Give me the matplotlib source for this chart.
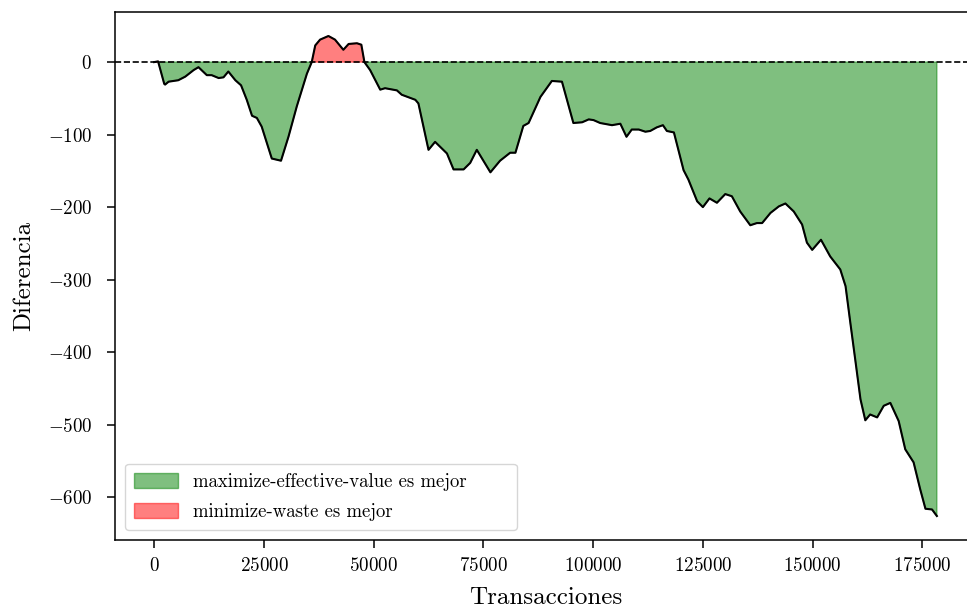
import matplotlib
matplotlib.use("Agg")
import matplotlib.pyplot as plt
import numpy as np

plt.rcParams["font.family"] = "serif"
plt.rcParams["font.serif"] = ["cmr10", "DejaVu Serif"]
plt.rcParams["mathtext.fontset"] = "cm"
plt.rcParams["axes.formatter.use_mathtext"] = True

# Cumulative difference (maximize-effective-value minus minimize-waste) per transaction count
transacciones = [
    0, 900, 2300, 2500, 3300, 5500, 7100, 9000, 10100, 12000, 13100, 14700,
    15800, 16900, 18500, 19800, 21100, 22300, 23400, 24500, 26800, 28900,
    30600, 32500, 34800, 35900, 36700, 37800, 39700, 41200, 43100, 44300,
    46200, 47200, 47900, 49200, 51500, 52600, 55300, 56400, 59500, 60200,
    62500, 64000, 66700, 68200, 70500, 72000, 73500, 76600, 78800, 81100,
    82300, 84100, 85300, 88000, 90600, 92900, 95500, 97500, 99000, 100100,
    101600, 104300, 106200, 107600, 108800, 110400, 111900, 113000, 114500,
    115900, 116800, 118400, 120600, 121700, 123700, 125000, 126500, 128200,
    130100, 131600, 133500, 135800, 137300, 138500, 140400, 142300, 143800,
    145700, 147600, 148700, 149900, 151900, 154000, 156300, 157500, 158600,
    159700, 160900, 162000, 163100, 164700, 166200, 167700, 169600, 171100,
    173000, 174500, 175700, 177200, 178300,
]
diferencia = [
    0, 1, -30, -31, -27, -25, -20, -11, -7, -18, -18, -22,
    -21, -13, -25, -32, -52, -74, -77, -89, -133, -136,
    -103, -61, -16, 0, 23, 31, 36, 31, 17, 25,
    26, 24, 0, -11, -38, -36, -39, -45, -52, -57,
    -121, -110, -126, -148, -148, -139, -121, -152, -136, -125,
    -125, -88, -84, -48, -26, -27, -84, -83, -79, -80,
    -84, -87, -85, -103, -93, -93, -96, -95, -90,
    -87, -95, -97, -149, -162, -192, -200, -188, -194,
    -182, -185, -206, -225, -222, -222, -208, -199, -195,
    -206, -224, -249, -259, -245, -268, -286, -309, -360,
    -410, -465, -494, -486, -490, -474, -470, -495, -534,
    -552, -589, -616, -617, -626,
]

etiqueta_max = "maximize-effective-value es mejor"
etiqueta_min = "minimize-waste es mejor"
x_ticks = [0, 25000, 50000, 75000, 100000, 125000, 150000, 175000]
y_ticks = [0, -100, -200, -300, -400, -500, -600]

x = np.array(transacciones, dtype=float)
y = np.array(diferencia, dtype=float)

fig = plt.figure(figsize=(9.67, 6.12), dpi=100)
ax_w = 861
ax_h = 528
ax = fig.add_axes([115 / 967, 72 / 612, ax_w / 967, ax_h / 612])

ax.fill_between(x, y, 0, where=y <= 0, interpolate=True,
                color="green", alpha=0.5, label=etiqueta_max)
ax.fill_between(x, y, 0, where=y >= 0, interpolate=True,
                color="red", alpha=0.5, label=etiqueta_min)
ax.plot(x, y, color="black", lw=1.5)
ax.axhline(0, color="black", linestyle="--", lw=1.2)

ax.set_xticks(x_ticks)
ax.set_yticks(y_ticks)
ax.tick_params(labelsize=13.7, length=6, width=1.1)
ax.tick_params(axis="x", pad=6.5)
ax.tick_params(axis="y", pad=10.5)
for s in ax.spines.values():
    s.set_linewidth(1.1)

ax.set_xlabel("Transacciones", fontsize=18, labelpad=8)
ax.set_ylabel("Diferencia", fontsize=18, labelpad=9)

# legend box spanning a fixed width in the lower-left corner
ax.legend(loc="lower left", fontsize=13.5, mode="expand", borderaxespad=0,
          bbox_to_anchor=(10 / ax_w, 10 / ax_h, 392 / ax_w, 0.2),
          handlelength=2.3, handleheight=0.85, labelspacing=0.62,
          borderpad=0.5, handletextpad=0.85)

fig.savefig("out.png", dpi=100)
